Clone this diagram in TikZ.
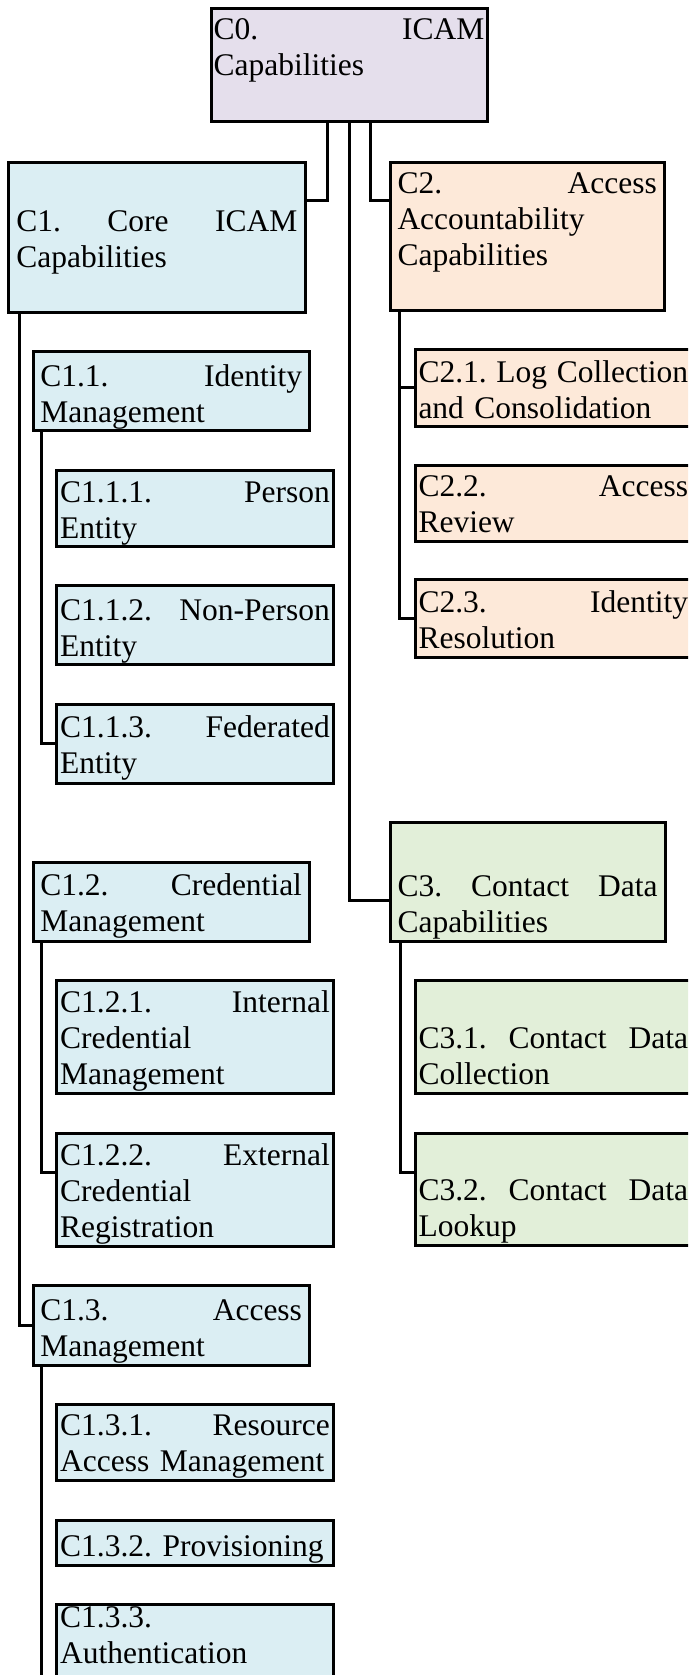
\documentclass[tikz,border=0pt]{standalone}
\usepackage{fontspec}
\setmainfont{Liberation Serif}
\frenchspacing
\definecolor{capPurple}{RGB}{229,223,236}
\definecolor{capBlue}{RGB}{219,238,243}
\definecolor{capPeach}{RGB}{253,233,217}
\definecolor{capGreen}{RGB}{226,239,217}

\begin{document}
\begin{tikzpicture}[x=1pt,y=-1pt,
    capbox/.style={draw=black, line width=3pt, outer sep=0pt, inner ysep=0pt, anchor=base west, align=left, font=\fontsize{31.5pt}{36pt}\selectfont},
    midbox/.style={capbox, fill=capBlue, inner xsep=7pt, text width=261.7pt},
    leafbox/.style={capbox, inner xsep=3.5pt, text width=269.6pt},
    link/.style={line width=3pt}]

            \useasboundingbox (0,0) rectangle (688,1675);
            \clip (0,0) rectangle (688,1675);

            \node[capbox, fill=capPurple, inner xsep=2.7pt, text width=270.6pt, text height=31pt, text depth=82pt] (c0) at (211,40) {C0.\hfill ICAM\\Capabilities};

            \node[capbox, fill=capBlue, inner xsep=8.3pt, text width=281pt, text height=68.3pt, text depth=81.3pt] (c1) at (8,231) {C1.\hfill Core\hfill ICAM\\Capabilities};
            \node[capbox, fill=capPeach, inner xsep=7.5pt, text width=259.3pt, text height=30.6pt, text depth=116.7pt] (c2) at (390,193.3) {C2.\hfill Access\\Accountability\\Capabilities};
            \node[capbox, fill=capGreen, inner xsep=7.5pt, text width=260pt, text height=73.3pt, text depth=45.7pt] (c3) at (390,896) {C3.\hfill Contact\hfill Data\\Capabilities};

            \node[midbox, text height=35pt, text depth=44pt] (c11) at (33.3,386.7) {C1.1.\hfill Identity\\Management};
            \node[midbox, text height=32.3pt, text depth=46.7pt] (c12) at (33.3,895) {C1.2.\hfill Credential\\Management};
            \node[midbox, text height=35pt, text depth=45pt] (c13) at (33.3,1320) {C1.3.\hfill Access\\Management};

            \node[leafbox, fill=capBlue, text height=32.3pt, text depth=44.4pt] (c111) at (56.7,502.3) {C1.1.1.\hfill Person\\Entity};
            \node[leafbox, fill=capBlue, text height=34.3pt, text depth=44pt] (c112) at (56.7,620) {C1.1.2.\hfill Non-Person\\Entity};
            \node[leafbox, fill=capBlue, text height=33pt, text depth=46pt] (c113) at (56.7,737.3) {C1.1.3.\hfill Federated\\Entity};
            \node[leafbox, fill=capBlue, text height=31.3pt, text depth=81.3pt] (c121) at (56.7,1012) {C1.2.1.\hfill Internal\\Credential\\Management};
            \node[leafbox, fill=capBlue, text height=31.7pt, text depth=81.7pt] (c122) at (56.7,1165) {C1.2.2.\hfill External\\Credential\\Registration};
            \node[leafbox, fill=capBlue, text height=31pt, text depth=45.7pt] (c131) at (56.7,1435) {C1.3.1.\hfill Resource\\Access Management};
            \node[leafbox, fill=capBlue, text height=36.7pt, text depth=9pt] (c132) at (56.7,1556.7) {C1.3.2. Provisioning};
            \node[leafbox, fill=capBlue, text height=23.7pt, text depth=72.3pt] (c133) at (56.7,1627.7) {C1.3.3.\\Authentication};

            \node[leafbox, fill=capPeach, text height=33.3pt, text depth=43.7pt] (c21) at (415,382.3) {C2.1.\hfill Log\hfill Collection\\and Consolidation};
            \node[leafbox, fill=capPeach, text height=30.3pt, text depth=45pt] (c22) at (415,496) {C2.2.\hfill Access\\Review};
            \node[leafbox, fill=capPeach, text height=33.4pt, text depth=44.6pt] (c23) at (415,612.7) {C2.3.\hfill Identity\\Resolution};

            \node[leafbox, fill=capGreen, text height=67.6pt, text depth=45pt] (c31) at (415,1048.3) {C3.1.\hfill Contact\hfill Data\\Collection};
            \node[leafbox, fill=capGreen, text height=66.7pt, text depth=45pt] (c32) at (415,1200) {C3.2.\hfill Contact\hfill Data\\Lookup};

            \draw[link] ([xshift=-22pt]c0.south) |- ([yshift=-38pt]c1.north east);
            \draw[link] ([xshift=21pt]c0.south) |- ([yshift=-38pt]c2.north west);
            \draw[link] (c0.south) |- ([yshift=41pt]c3.south west);

            \draw[link] ([xshift=11pt]c1.south west) |- (c13.west);
            \draw[link] ([xshift=8pt]c11.south west) |- (c113.west);
            \draw[link] ([xshift=8pt]c12.south west) |- ([yshift=-39pt]c122.north west);
            \draw[link] ([xshift=8pt]c13.south west) |- (c133.south west);

            \draw[link] ([xshift=9.3pt]c2.south west) |- (c21.west);
            \draw[link] ([xshift=9.3pt]c2.south west) |- (c23.west);
            \draw[link] ([xshift=10pt]c3.south west) |- ([yshift=-39pt]c32.north west);
        \end{tikzpicture}
\end{document}
